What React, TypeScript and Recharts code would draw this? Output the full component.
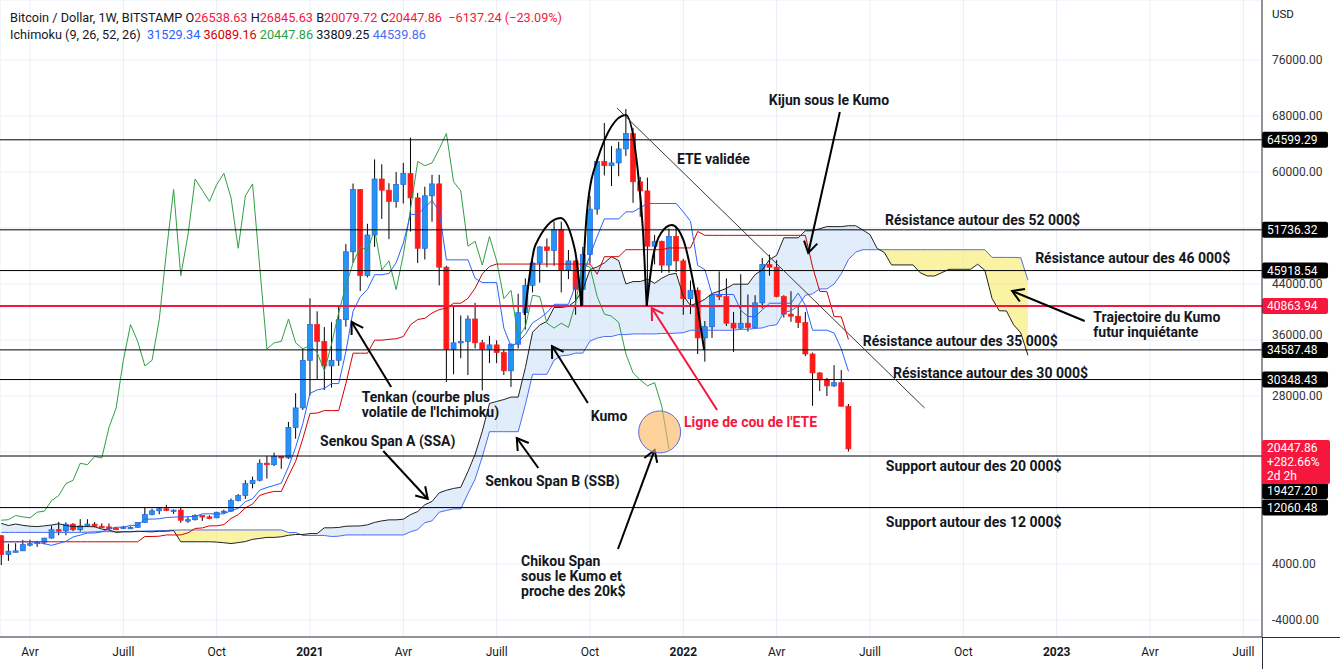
import React from 'react';
import {
    ComposedChart,
    Bar,
    Line,
    Area,
    XAxis,
    YAxis,
    CartesianGrid,
    ReferenceLine,
    ReferenceDot
} from 'recharts';

// Weekly BTC/USD candles (Bitstamp), week of 9 Mar 2020 -> week of 13 Jun 2022
const weekOpen = [
    8030, 5360, 5830, 5880, 6770, 6900, 7120, 7700, 8900, 8720, 9680, 8900, 9450, 9700, 9390, 9300, 9100, 9050, 9200, 9240,
    9930, 11070, 11600, 11900, 11650, 11700, 10250, 10330, 10930, 10730, 10600, 11400, 11550, 13050, 13780, 15480, 15960, 18400, 18180, 19360,
    19150, 23500, 26300, 33100, 38200, 35800, 32300, 33100, 38900, 48600, 57500, 45200, 51000, 59000, 57400, 55800, 58200, 59800, 56300, 49100,
    56600, 58300, 46400, 34700, 35600, 35800, 39000, 35600, 34700, 35300, 34200, 31600, 35400, 39900, 43800, 47000, 49300, 48800, 51800, 46000,
    47300, 43200, 48200, 54700, 61500, 60900, 61300, 63300, 65500, 58600, 57300, 49400, 50100, 46700, 50800, 47300, 41900, 43100, 36300, 37900,
    42400, 42200, 38400, 37700, 38400, 37800, 41300, 46800, 46400, 42200, 39700, 39400, 38500, 34000, 31300, 30300, 29450, 29900, 26538.63
];
const weekHigh = [
    8150, 6900, 6970, 7450, 7470, 7300, 7740, 9480, 10030, 9950, 9850, 10400, 10400, 9990, 9800, 9790, 9300, 9440, 9380, 10000,
    12000, 11900, 12100, 12450, 11800, 12050, 10700, 11100, 10990, 10950, 11450, 11750, 13350, 14000, 15960, 16480, 18950, 19450, 19900, 19420,
    24300, 28400, 34800, 41950, 40100, 37850, 38550, 40950, 49700, 58350, 57550, 52600, 61800, 61100, 58400, 60000, 61300, 64900, 57000, 57900,
    59600, 59600, 46600, 40900, 39500, 39500, 41300, 36000, 36600, 35950, 34650, 35500, 42600, 44800, 48100, 49400, 50500, 52900, 52900, 48850,
    47400, 49300, 56600, 62000, 67000, 63700, 64300, 69000, 66300, 59300, 59200, 51000, 50200, 51900, 52099, 47600, 44500, 43500, 38700, 42600,
    45800, 44800, 40000, 45400, 42500, 42400, 47700, 48200, 47400, 42400, 42976, 40800, 40000, 34200, 31400, 30600, 32400, 31700, 26845.63
];
const weekLow = [
    3850, 4450, 5700, 5860, 6500, 6450, 6800, 7640, 8110, 8100, 8700, 8640, 9300, 9250, 9200, 8830, 8950, 8990, 9050, 9180,
    9900, 10950, 11100, 11550, 11150, 9900, 9880, 10200, 10150, 10400, 10550, 11200, 11450, 12950, 13300, 14800, 15800, 16200, 18000, 17600,
    19000, 21900, 26000, 28100, 30400, 28850, 29200, 32300, 37900, 47000, 43000, 44950, 49300, 53300, 50400, 54900, 55500, 51500, 47000, 47500,
    52900, 43800, 30000, 31100, 33400, 31000, 34800, 28800, 32700, 32700, 31000, 29300, 34800, 37500, 42800, 44200, 46400, 46600, 42800, 44700,
    39600, 40800, 46900, 53900, 59500, 58000, 59400, 62300, 55600, 53600, 42000, 46800, 45600, 45600, 45700, 39600, 39700, 34000, 32900, 36300,
    41700, 38000, 34300, 37500, 37200, 37600, 40500, 45200, 42100, 39200, 38600, 37700, 33700, 26600, 28700, 28000, 29300, 26500, 20079.72
];
const weekClose = [
    5360, 5830, 5880, 6770, 6900, 7120, 7700, 8900, 8720, 9680, 8900, 9450, 9700, 9390, 9300, 9010, 9050, 9280, 9240, 9930,
    11070, 11600, 11900, 11650, 11700, 10250, 10330, 10930, 10730, 10600, 11400, 11550, 13050, 13780, 15480, 15960, 18400, 18180, 19360, 19150,
    23500, 26300, 33100, 38200, 35800, 32300, 33100, 38900, 48600, 57500, 45200, 51000, 59000, 57400, 55800, 58200, 59800, 56300, 49100, 56600,
    58300, 46400, 34700, 35600, 35800, 39000, 35600, 34700, 35300, 34200, 31600, 35400, 39900, 43800, 47000, 49300, 48800, 51800, 46000, 47300,
    43200, 48200, 54700, 61500, 60900, 61300, 63300, 65500, 58600, 57300, 49400, 50100, 46700, 50800, 47300, 41900, 43100, 36300, 37900, 42400,
    42200, 38400, 37700, 38400, 37800, 41300, 46800, 46400, 42200, 39700, 39400, 38500, 34000, 31300, 30300, 29450, 29900, 26538.63, 20447.86
];

// weekly highs / lows before the first visible candle (Sep 2018 -> Mar 2020), needed by the Ichimoku windows
const preHigh = [
    6800, 6750, 6700, 6700, 7000, 6550, 6500, 6600, 6500, 5100, 4400, 4300, 3600, 4200, 4250, 4100,
    4150, 3750, 3650, 3550, 3700, 3650, 4200, 3950, 3950, 4050, 4100, 4200, 5300, 5450, 5350, 5650, 5900,
    7500, 8350, 8650, 9100, 8800, 9350, 11250, 13880, 12900, 13150, 11100, 10650, 11900, 12300, 11450, 10950, 10650,
    10900, 10500, 10300, 10050, 8550, 8850, 8400, 10500, 9900, 9400, 8850, 8500, 7850, 7750, 7650, 7550, 7500, 7650,
    8450, 9200, 9000, 9600, 10150, 10500, 10300, 9950, 9200
];
const preLow = [
    6250, 6400, 6450, 6150, 6400, 6400, 6250, 6350, 5200, 3650, 3500, 3350, 3150, 3200, 3550, 3700,
    3550, 3450, 3450, 3350, 3350, 3550, 3600, 3650, 3700, 3800, 3900, 3900, 4100, 4950, 5050, 5050, 5300,
    5700, 6600, 7500, 8000, 7450, 7600, 9000, 9650, 10100, 10150, 9100, 9150, 9400, 11150, 9500, 9750, 9350,
    10100, 9900, 9600, 7700, 7800, 7900, 7900, 7300, 8900, 8650, 8400, 6800, 6500, 7200, 6850, 6450, 7050, 6850,
    7650, 8050, 8250, 8850, 9150, 9700, 9300, 8400, 8000
];

// x ticks: first weekly bar of each quarter
const quarterWeeks = [4, 17, 30, 43, 56, 69, 82, 95, 108, 121, 134, 147, 160, 173];
const quarterLabels = ['Avr', 'Juill', 'Oct', '2021', 'Avr', 'Juill', 'Oct', '2022', 'Avr', 'Juill', 'Oct', '2023', 'Avr', 'Juill'];
const priceTicks = [-4000, 4000, 12000, 20000, 28000, 36000, 44000, 52000, 60000, 68000, 76000];
const hiddenPriceTicks = [52000, 20000, 12000];

const blackLevels = [64599.29, 51736.32, 45918.54, 34587.48, 30348.43, 19427.2, 12060.48];
const necklineLevel = 40863.94;

const legendKeys = ['O', 'H', 'B', 'C'];
const legendValues = [26538.63, 26845.63, 20079.72, 20447.86];
const ichimokuValues = [31529.34, 36089.16, 20447.86, 33809.25, 44539.86];

// head & shoulders drawing (week, price)
const leftShoulder = [[72.9, 39570], [74.4, 49570], [77.9, 53430], [79.9, 48860], [80.8, 40860]];
const headArc = [[80.8, 40860], [81.6, 54570], [83.0, 61710], [87.0, 68140], [88.6, 60710], [89.4, 51290], [89.9, 40860]];
const rightShoulder = [[89.9, 40860], [90.7, 47430], [91.9, 51290], [93.4, 52430], [95.0, 50290], [96.5, 43570], [97.9, 34570]];

const notes = [
    { lines: ['Kijun sous le Kumo'], t: 106.9, p: 70290, red: false },
    { lines: ['ETE validée'], t: 94.1, p: 61860, red: false },
    { lines: ['Résistance autour des 52 000$'], t: 123.1, p: 53140, red: false },
    { lines: ['Résistance autour des 46 000$'], t: 144.0, p: 47710, red: false },
    { lines: ['Trajectoire du Kumo', 'futur inquiétante'], t: 152.1, p: 39290, red: false },
    { lines: ['Résistance autour des 35 000$'], t: 120.0, p: 35860, red: false },
    { lines: ['Résistance autour des 30 000$'], t: 124.2, p: 31290, red: false },
    { lines: ["Ligne de cou de l'ETE"], t: 95.1, p: 24290, red: true },
    { lines: ['Kumo'], t: 82.1, p: 25140, red: false },
    { lines: ['Tenkan (courbe plus', "volatile de l'Ichimoku)"], t: 50.2, p: 27860, red: false },
    { lines: ['Senkou Span A (SSA)'], t: 44.4, p: 21570, red: false },
    { lines: ['Senkou Span B (SSB)'], t: 67.4, p: 15860, red: false },
    { lines: ['Chikou Span', 'sous le Kumo et', 'proche des 20k$'], t: 72.4, p: 4430, red: false },
    { lines: ['Support autour des 20 000$'], t: 123.2, p: 18000, red: false },
    { lines: ['Support autour des 12 000$'], t: 123.2, p: 10000, red: false }
];

// arrows: tail (t, p) -> head (t, p)
const arrows = [
    { from: [116.8, 68570], to: [112.4, 48430], red: false },
    { from: [150.9, 38710], to: [140.8, 43000], red: false },
    { from: [99.7, 26000], to: [90.6, 40570], red: true },
    { from: [81.7, 27000], to: [76.7, 35140], red: false },
    { from: [54.3, 29290], to: [48.8, 38570], red: false },
    { from: [53.2, 20140], to: [59.4, 13290], red: false },
    { from: [74.8, 17710], to: [71.8, 22000], red: false },
    { from: [85.9, 6140], to: [91.0, 20290], red: false }
];
const trendFrom = [85.75, 69140];
const trendTo = [128.6, 26290];
const chikouCircle = [91.7, 22860];

const RED = '#f5173e';
const UP = '#2196f3';
const DOWN = '#ff1a1a';
const FONT = 'Roboto, "Noto Sans", sans-serif';

const PRE = preHigh.length;
const allHigh = [...preHigh, ...weekHigh];
const allLow = [...preLow, ...weekLow];

// midpoint of the n-week high/low range ending at week s
const midRange = (n: number, s: number) => {
    const end = s + PRE;
    const start = end - n + 1;
    if (start < 0 || end >= allHigh.length) return null;
    let hi = -Infinity;
    let lo = Infinity;
    for (let i = start; i <= end; i++) {
        hi = Math.max(hi, allHigh[i]);
        lo = Math.min(lo, allLow[i]);
    }
    return (hi + lo) / 2;
};

const LAST = weekClose.length - 1;
const SHIFT = 25;

const rows = Array.from({ length: LAST + SHIFT + 1 }, (_, t) => {
    const s = t - SHIFT;
    const tk = midRange(9, s);
    const kj = midRange(26, s);
    const ssa = tk != null && kj != null ? (tk + kj) / 2 : null;
    const ssb = midRange(52, s);
    const top = ssa != null && ssb != null ? Math.max(ssa, ssb) : null;
    const isCandle = t <= LAST;
    return {
        t,
        range: isCandle ? [weekLow[t], weekHigh[t]] : null,
        o: isCandle ? weekOpen[t] : null,
        h: isCandle ? weekHigh[t] : null,
        l: isCandle ? weekLow[t] : null,
        c: isCandle ? weekClose[t] : null,
        tenkan: isCandle ? midRange(9, t) : null,
        kijun: isCandle ? midRange(26, t) : null,
        chikou: t + SHIFT <= LAST ? weekClose[t + SHIFT] : null,
        ssa,
        ssb,
        cloudUp: top != null ? [ssb, top] : null,
        cloudDn: top != null ? [ssa, top] : null
    };
});

const toPts = (arr: number[][]) => arr.map(([t, v]) => ({ t, v }));

const BODY_W = 5;

const Candle = (props: any) => {
    const { x, y, width, height, payload } = props;
    if (!payload || payload.o == null || !isFinite(y)) return null;
    const { o, h, l, c } = payload;
    const k = h - l > 0 ? height / (h - l) : 0;
    const yO = y + (h - o) * k;
    const yC = y + (h - c) * k;
    const up = c >= o;
    const cx = x + width / 2;
    return (
        <g>
            <line x1={cx} x2={cx} y1={y} y2={y + height} stroke="#000" strokeWidth={1} />
            <rect
                x={cx - BODY_W / 2}
                y={Math.min(yO, yC)}
                width={BODY_W}
                height={Math.max(1.5, Math.abs(yC - yO))}
                fill={up ? UP : DOWN}
                stroke={up ? '#2a5fe0' : DOWN}
                strokeWidth={0.7}
            />
        </g>
    );
};

const XTick = (props: any) => {
    const { x, y, payload } = props;
    const i = quarterWeeks.indexOf(payload.value);
    const label = quarterLabels[i] ?? '';
    const isYear = /^\d/.test(label);
    return (
        <text x={x} y={y + 2} dy="0.71em" textAnchor="middle" fontSize={12} fontFamily={FONT}
            fill="#131722" fontWeight={isYear ? 700 : 400}>
            {label}
        </text>
    );
};

const YTick = (props: any) => {
    const { x, y, payload } = props;
    if (hiddenPriceTicks.includes(payload.value)) return null;
    // 36000 sits just above the 34587 tag, nudge it clear
    const lift = payload.value === 36000 ? -5 : 0;
    return (
        <text x={x + 2} y={y + lift} dy="0.35em" textAnchor="start" fontSize={12} fontFamily={FONT} fill="#333">
            {payload.value.toFixed(2)}
        </text>
    );
};

// horizontal level line with its price tag on the axis
const LevelLine = (props: any) => {
    const { x1, x2, y1, color, width, tagDy } = props;
    const xr = Math.max(x1, x2);
    const ty = y1 + (tagDy || 0);
    return (
        <g>
            <line x1={Math.min(x1, x2)} x2={xr} y1={y1} y2={y1} stroke={color} strokeWidth={width} />
            <rect x={xr} y={ty - 8} width={66} height={16} rx={2} fill={color} />
            <text x={xr + 5} y={ty} dy="0.35em" fontSize={12} fontFamily={FONT} fill="#fff">{props.text}</text>
        </g>
    );
};

const Arrow = (props: any) => {
    const { x1, y1, x2, y2, color } = props;
    const ang = Math.atan2(y2 - y1, x2 - x1);
    const len = 13;
    const spread = 0.55;
    const ax = x2 - len * Math.cos(ang - spread);
    const ay = y2 - len * Math.sin(ang - spread);
    const bx = x2 - len * Math.cos(ang + spread);
    const by = y2 - len * Math.sin(ang + spread);
    return (
        <g>
            <line x1={x1} y1={y1} x2={x2} y2={y2} stroke={color} strokeWidth={2} />
            <polyline points={`${ax},${ay} ${x2},${y2} ${bx},${by}`} fill="none" stroke={color} strokeWidth={2} />
        </g>
    );
};

const Note = (props: any) => {
    const { cx, cy, lines, color } = props;
    return (
        <text x={cx} y={cy} fontSize={14} fontWeight={700} fontFamily={FONT} fill={color}>
            {lines.map((ln: string, i: number) => (
                <tspan key={i} x={cx} dy={i === 0 ? '0.35em' : 15}>{ln}</tspan>
            ))}
        </text>
    );
};

const legendColors = ['#2962ff', '#d50000', '#2ea043', '#131722', '#4d6cf5'];

const lineProps = { type: 'linear' as const, dot: false, activeDot: false, isAnimationActive: false, strokeWidth: 1 };
const arcProps = { type: 'monotone' as const, dataKey: 'v', stroke: '#000', strokeWidth: 2, dot: false, activeDot: false, isAnimationActive: false };

export default function App() {
    return (
        <div style={{ position: 'absolute', left: 0, top: 0, width: 1340, height: 669, background: '#fff', fontFamily: FONT }}>
            <ComposedChart width={1340} height={669} data={rows} margin={{ top: 0, right: 0, bottom: 0, left: 0 }}>
                <CartesianGrid stroke="#e8eef6" />
                <XAxis
                    dataKey="t"
                    type="number"
                    domain={[-0.18, 175.6]}
                    allowDataOverflow
                    ticks={quarterWeeks}
                    interval={0}
                    tick={<XTick />}
                    tickLine={false}
                    axisLine={{ stroke: '#2a2e39' }}
                    height={32}
                />
                <YAxis
                    orientation="right"
                    type="number"
                    domain={[-6429, 84571]}
                    allowDataOverflow
                    ticks={priceTicks}
                    interval={0}
                    tick={<YTick />}
                    tickLine={false}
                    axisLine={{ stroke: '#2a2e39' }}
                    width={78}
                />

                <Area dataKey="cloudUp" type="linear" stroke="none" fill="#2f7de1" fillOpacity={0.14} dot={false} activeDot={false} isAnimationActive={false} />
                <Area dataKey="cloudDn" type="linear" stroke="none" fill="#f7e84a" fillOpacity={0.5} dot={false} activeDot={false} isAnimationActive={false} />
                <Line dataKey="ssb" stroke="#4d6cf5" {...lineProps} />
                <Line dataKey="ssa" stroke="#222" {...lineProps} />
                <Line dataKey="chikou" stroke="#2ea043" {...lineProps} />
                <Line dataKey="kijun" stroke="#d50000" {...lineProps} />
                <Line dataKey="tenkan" stroke="#2962ff" {...lineProps} />

                {blackLevels.map((v) => (
                    <ReferenceLine key={v} y={v}
                        shape={(p: any) => <LevelLine {...p} color="#000" width={1} text={v.toFixed(2)} tagDy={v === 19427.2 ? 35 : 0} />} />
                ))}
                <ReferenceLine y={necklineLevel}
                    shape={(p: any) => <LevelLine {...p} color={RED} width={2} text={necklineLevel.toFixed(2)} />} />

                <Bar dataKey="range" barSize={5} shape={(p: any) => <Candle {...p} />} isAnimationActive={false} />

                <Line data={toPts(leftShoulder)} {...arcProps} />
                <Line data={toPts(headArc)} {...arcProps} />
                <Line data={toPts(rightShoulder)} {...arcProps} />

                <ReferenceLine segment={[{ x: trendFrom[0], y: trendFrom[1] }, { x: trendTo[0], y: trendTo[1] }]}
                    stroke="#3a3a3a" strokeWidth={1} />

                <ReferenceDot x={chikouCircle[0]} y={chikouCircle[1]} r={21} fill="#fbb35a" fillOpacity={0.6} stroke="#5872d8" strokeWidth={1} />

                {arrows.map((a, i) => (
                    <ReferenceLine key={`ar-${i}`}
                        segment={[{ x: a.from[0], y: a.from[1] }, { x: a.to[0], y: a.to[1] }]}
                        shape={(p: any) => <Arrow {...p} color={a.red ? RED : '#000'} />} />
                ))}

                {notes.map((n, i) => (
                    <ReferenceDot key={`nt-${i}`} x={n.t} y={n.p} r={0}
                        shape={(p: any) => <Note {...p} lines={n.lines} color={n.red ? RED : '#131722'} />} />
                ))}
            </ComposedChart>

            {/* last price tag */}
            <div style={{ position: 'absolute', left: 1262, top: 440, width: 68, height: 44, background: RED, color: '#fff',
                fontSize: 12, lineHeight: '14px', padding: '1px 0 0 5px', boxSizing: 'border-box', borderRadius: 2 }}>
                <div>20447.86</div>
                <div>+282.66%</div>
                <div>2d 2h</div>
            </div>
            <div style={{ position: 'absolute', left: 1272, top: 7, fontSize: 11.5, color: '#131722' }}>USD</div>
            <div style={{ position: 'absolute', left: 1262, top: 637, width: 78, height: 1, background: '#2a2e39' }} />
            <div style={{ position: 'absolute', left: 1262, top: 637, width: 1, height: 32, background: '#2a2e39' }} />

            {/* legend */}
            <div style={{ position: 'absolute', left: 10, top: 9, fontSize: 12.7, lineHeight: '17px', color: '#131722', whiteSpace: 'pre' }}>
                <div>
                    {'Bitcoin / Dollar, 1W, BITSTAMP '}
                    {legendKeys.map((k, i) => (
                        <span key={k}>{k}<span style={{ color: RED }}>{legendValues[i].toFixed(2)}</span>{' '}</span>
                    ))}
                    <span style={{ color: RED }}>{' −6137.24 (−23.09%)'}</span>
                </div>
                <div>
                    {'Ichimoku (9, 26, 52, 26) '}
                    {ichimokuValues.map((v, i) => (
                        <span key={i} style={{ color: legendColors[i] }}>{' ' + v.toFixed(2)}</span>
                    ))}
                </div>
            </div>
        </div>
    );
}
